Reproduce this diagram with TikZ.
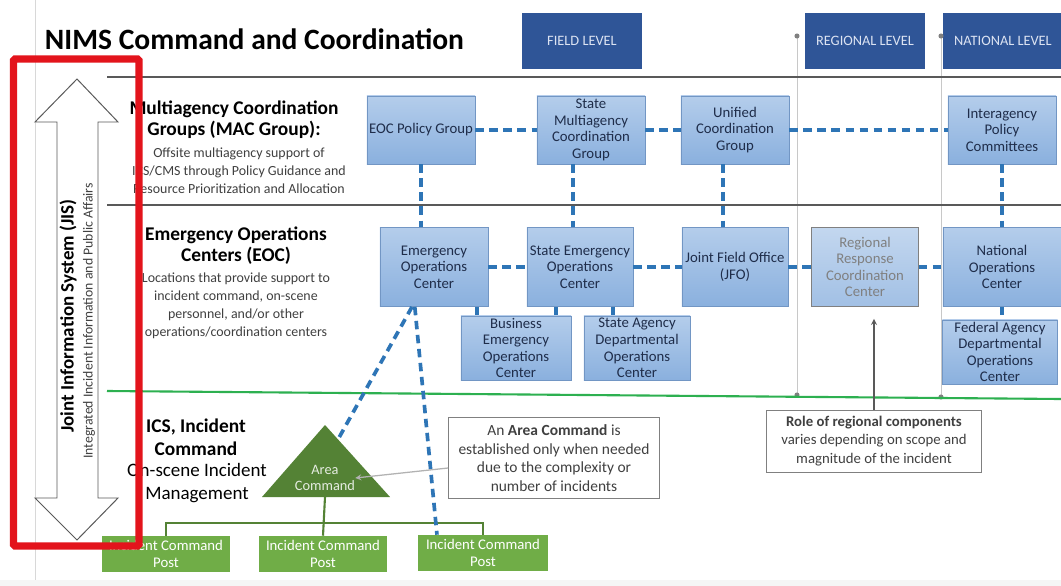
\documentclass[tikz,border=0pt]{standalone}
\usepackage{fontspec}
\setmainfont{Carlito}
\usepackage{tikz}
\usetikzlibrary{arrows,calc}
\definecolor{lvlblue}{HTML}{2F5597}
\definecolor{lvltext}{HTML}{DCE3F2}
\definecolor{boxtop}{HTML}{B4CDEB}
\definecolor{boxbot}{HTML}{8AB0DE}
\definecolor{boxedge}{HTML}{7296C4}
\definecolor{boxtext}{HTML}{1F2D4A}
\definecolor{dashblue}{HTML}{2E75B6}
\definecolor{rulegray}{HTML}{595959}
\definecolor{sepgray}{HTML}{C8C8C8}
\definecolor{linegreen}{HTML}{2DB050}
\definecolor{acgreen}{HTML}{548235}
\definecolor{icpgreen}{HTML}{70AD47}
\definecolor{jisred}{HTML}{E3141C}
\definecolor{desctext}{HTML}{404040}
\tikzset{every picture/.append style={x=0.025cm,y=-0.025cm}}
\tikzset{box/.style={draw=boxedge, top color=boxtop, bottom color=boxbot, text=boxtext, align=center, font=\fontsize{10.5}{11.8}\selectfont, minimum width=2.7cm, minimum height=1.7cm, inner sep=1pt}}
\tikzset{regbox/.style={box, draw=gray, top color=boxtop!80!white, bottom color=boxbot!80!white, text=gray}}
\tikzset{lvl/.style={fill=lvlblue, text=lvltext, font=\fontsize{10.2}{12}\selectfont, minimum width=3cm, minimum height=1.38cm}}
\tikzset{icp/.style={fill=icpgreen, text=white, align=center, font=\fontsize{10.5}{12}\selectfont, minimum width=3.18cm, minimum height=0.9cm, inner sep=1pt}}
\tikzset{note/.style={draw=gray, fill=white, align=center, text=desctext, inner sep=2pt}}
\tikzset{head/.style={align=center, font=\bfseries\fontsize{13.8}{15}\selectfont}}
\tikzset{desc/.style={align=center, text=desctext, font=\fontsize{9.9}{12.8}\selectfont}}
\tikzset{dlink/.style={draw=dashblue, line width=2.6pt, dash pattern=on 6pt off 4pt}}
\tikzset{rule/.style={draw=rulegray, line width=1.4pt}}
\tikzset{sep/.style={draw=sepgray, line width=0.6pt}}
\tikzset{tree/.style={draw=acgreen, line width=1.5pt}}

\begin{document}
\begin{tikzpicture}
\useasboundingbox (0,0) rectangle (1061,586);
\fill[white] (0,0) rectangle (1061,586);
\fill[gray!8] (0,580) rectangle (1061,586);
\draw[sepgray!70, line width=0.5pt] (35,0) -- (35,580);

% title and levels
\node[anchor=west, font=\bfseries\fontsize{21}{24}\selectfont] (title) at (40,39) {NIMS Command and Coordination};
\node[lvl] (field) at (582,41) {FIELD LEVEL};
\node[lvl] (regional) at (865,41) {REGIONAL LEVEL};
\node[lvl] (national) at (1003,41) {NATIONAL LEVEL};

% level separators
\coordinate (s1t) at (797,36);
\coordinate (s1b) at (797,395);
\coordinate (s2t) at (941,36);
\coordinate (s2b) at (941,397);
\draw[sep] (s1t) -- (s1b);
\draw[sep] (s2t) -- (s2b);
\foreach \p in {s1t,s1b,s2t,s2b}
  \fill[gray] (\p) circle (1.8pt);

% rows
\draw[rule] (107,77) -- (1061,77);
\draw[rule] (107,205) -- (1061,205);
\coordinate (gl) at (107,391);
\coordinate (gr) at (1061,399);
\draw[draw=linegreen, line width=1.5pt] (gl) -- (gr);

% row labels
\node[head] (machead) at (234,120) {Multiagency Coordination\\Groups (MAC Group):};
\node[desc] (macdesc) at (239,171) {Offsite multiagency support of\\ICS/CMS through Policy Guidance and\\Resource Prioritization and Allocation};
\node[head] (eochead) at (236,246) {Emergency Operations\\Centers (EOC)};
\node[desc] (eocdesc) at (236,306) {Locations that provide support to\\incident command, on-scene\\personnel, and/or other\\operations/coordination centers};
\node[head, font=\bfseries\fontsize{13.8}{16.3}\selectfont] (icshead) at (196,437) {ICS, Incident\\Command};
\node[align=center, font=\fontsize{13.5}{16.3}\selectfont] (icsdesc) at (197,483) {On-scene Incident\\Management};

% MAC groups
\node[box] (epg) at (421,130) {EOC Policy Group};
\node[box] (smac) at (591,130) {State\\Multiagency\\Coordination\\Group};
\node[box] (ucg) at (735,130) {Unified\\Coordination\\Group};
\node[box] (ipc) at (1002,130) {Interagency\\Policy\\Committees};

% EOCs
\node[box, minimum height=1.98cm] (eoc) at (434,267) {Emergency\\Operations\\Center};
\node[box, minimum width=2.65cm, minimum height=1.98cm] (seoc) at (580,267) {State Emergency\\Operations\\Center};
\node[box, minimum width=2.65cm, minimum height=1.98cm] (jfo) at (735,267) {Joint Field Office\\(JFO)};
\node[regbox, minimum width=2.68cm, minimum height=1.98cm] (rrcc) at (865,267) {Regional\\Response\\Coordination\\Center};
\node[box, minimum width=2.95cm, minimum height=1.98cm] (noc) at (1002,267) {National\\Operations\\Center};
\node[box, minimum width=2.75cm, minimum height=1.6cm] (beoc) at (516,348) {Business\\Emergency\\Operations\\Center};
\node[box, minimum width=2.65cm, minimum height=1.6cm] (sadoc) at (637,348) {State Agency\\Departmental\\Operations\\Center};
\node[box, minimum width=2.88cm, minimum height=1.6cm] (fadoc) at (1000,352) {Federal Agency\\Departmental\\Operations\\Center};

\draw[dlink] (epg) -- (smac);
\draw[dlink] (smac) -- (ucg);
\draw[dlink] (ucg) -- (ipc);
\draw[dlink] (epg.south) -- (epg.south |- eoc.north);
\draw[dlink] ([xshift=-0.45cm]smac.south) -- ([xshift=-0.45cm]smac.south |- seoc.north);
\draw[dlink] ([xshift=-0.3cm]ucg.south) -- ([xshift=-0.3cm]ucg.south |- jfo.north);
\draw[dlink] (ipc.south) -- (ipc.south |- noc.north);
\draw[dlink] (eoc) -- (seoc);
\draw[dlink] (seoc) -- (jfo);
\draw[dlink] (jfo) -- (rrcc);
\draw[dlink] (rrcc) -- (noc);
\draw[dlink] ([xshift=1.075cm]eoc.south) -- ([xshift=1.075cm]eoc.south |- beoc.north);
\draw[dlink] ([xshift=-0.6cm]seoc.south) -- ([xshift=-0.6cm]seoc.south |- beoc.north);
\draw[dlink] ([xshift=0.825cm]seoc.south) -- ([xshift=0.825cm]seoc.south |- sadoc.north);
\draw[dlink] (noc.south) -- (noc.south |- fadoc.north);

% area command and posts
\coordinate (actop) at (325,425);
\coordinate (acbl) at (262,497);
\coordinate (acbr) at (390,497);
\coordinate (acbase) at (325,497);
\coordinate (acside) at ($(actop)!0.2!(acbr)$);
\fill[acgreen] (actop) -- (acbr) -- (acbl) -- cycle;
\node[align=center, text=white!85!acgreen, font=\fontsize{10.2}{12}\selectfont, inner sep=0pt] (aclabel) at (325,478) {Area\\Command};

\node[icp] (icp1) at (166,554) {Incident Command\\Post};
\node[icp] (icp2) at (323,554) {Incident Command\\Post};
\node[icp, minimum width=3.25cm] (icp3) at (483,553) {Incident Command\\Post};
\coordinate (bar) at (325,523);
\draw[tree] (acbase) -- (icp2.north);
\draw[tree] (icp1.north) |- (bar) -| (icp3.north);

\draw[dlink] ([xshift=-0.55cm]eoc.south) -- (acside);
\draw[dlink] ([xshift=-0.48cm]eoc.south) -- ([xshift=-1.15cm]icp3.north);

% notes
\node[note, minimum width=5.28cm, minimum height=2.03cm, font=\fontsize{11}{13.3}\selectfont] (acnote) at (554,458) {An \textbf{Area Command} is\\established only when needed\\due to the complexity or\\number of incidents};
\draw[-stealth, gray!60, line width=0.9pt] ([yshift=-0.25cm]acnote.west) -- (aclabel.east);
\node[note, minimum width=5.38cm, minimum height=1.55cm, font=\fontsize{10.5}{13}\selectfont] (role) at (874,441) {\textbf{Role of regional components}\\varies depending on scope and\\magnitude of the incident};
\draw[-stealth, rulegray, line width=0.9pt] (role.north) -- ([yshift=-0.3cm]role.north |- rrcc.south);

% JIS arrow
\draw[rulegray, fill=white, line width=0.7pt] (77,79) -- (118,122) -- (98,122) -- (98,498) -- (118,498) -- (77,540) -- (35,498) -- (57,498) -- (57,122) -- (35,122) -- cycle;
\node[rotate=90, font=\bfseries\fontsize{13.5}{15}\selectfont] (jis) at (68,316) {Joint Information System (JIS)};
\node[rotate=90, text=desctext, font=\fontsize{9.8}{11}\selectfont] (jissub) at (89,321) {Integrated Incident Information and Public Affairs};
\draw[jisred, line width=5pt, rounded corners=1pt] (13.5,59) rectangle (139,546);
\end{tikzpicture}
\end{document}
